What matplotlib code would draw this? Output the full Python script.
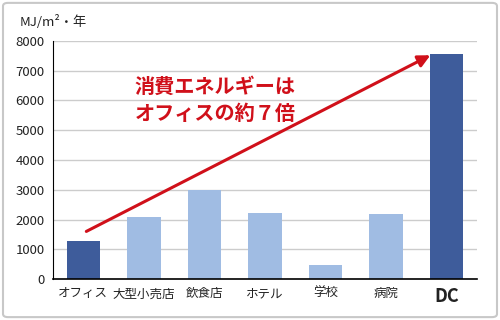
import matplotlib.pyplot as plt
from matplotlib.patches import FancyBboxPatch

plt.rcParams['font.family'] = ['Noto Sans CJK JP', 'DejaVu Sans']

# 用途別のエネルギー消費量 (MJ/m2・年)
categories = ['オフィス', '大型小売店', '飲食店', 'ホテル', '学校', '病院', 'DC']
values = [1280, 2100, 3000, 2220, 470, 2200, 7550]
highlight = [True, False, False, False, False, False, True]
yticks = [0, 1000, 2000, 3000, 4000, 5000, 6000, 7000, 8000]

dark = '#3E5C9B'
light = '#A0BCE3'
red = '#D0101A'

fig = plt.figure(figsize=(5, 3.2), dpi=100)
# 外枠
fig.patches.append(FancyBboxPatch((0.006, 0.009), 0.988, 0.982,
                                  boxstyle='round,pad=0,rounding_size=0.01',
                                  transform=fig.transFigure, fill=False,
                                  edgecolor='#C8C8C8', linewidth=1.5))

ax = fig.add_axes([0.106, 0.128, 0.848, 0.744])
x = range(len(categories))
colors = [dark if h else light for h in highlight]
ax.bar(x, values, width=0.55, color=colors, zorder=2)

ax.set_xlim(-0.5, len(categories) - 0.5)
ax.set_ylim(0, 8000)
ax.set_yticks(yticks)
ax.set_yticklabels([str(t) for t in yticks], fontsize=9.5, color='#222222')
ax.set_xticks(list(x))
ax.set_xticklabels(categories, fontsize=9, color='#222222')
ax.get_xticklabels()[-1].set_fontsize(13)
ax.get_xticklabels()[-1].set_fontweight('bold')
ax.tick_params(length=0, pad=6)
ax.grid(axis='y', color='#CCCCCC', linewidth=1, zorder=0)
for s in ['top', 'right']:
    ax.spines[s].set_visible(False)
ax.spines['left'].set_color('black')
ax.spines['bottom'].set_color('black')
ax.spines['bottom'].set_linewidth(1.2)
ax.spines['left'].set_zorder(3)
ax.spines['bottom'].set_zorder(3)

fig.text(0.04, 0.93, 'MJ/m²・年', fontsize=9.5, color='#222222', va='center')

# 矢印
ax.annotate('', xy=(5.73, 7520), xytext=(0.05, 1600),
            arrowprops=dict(arrowstyle='-|>', color=red, lw=2.2,
                            mutation_scale=18, shrinkA=0, shrinkB=0),
            zorder=4)
ax.text(0.85, 6020, '消費エネルギーは\nオフィスの約７倍', color=red, fontsize=14.5,
        fontweight='bold', linespacing=1.35, va='center', ha='left', zorder=5)

fig.savefig('out.png', dpi=100)
